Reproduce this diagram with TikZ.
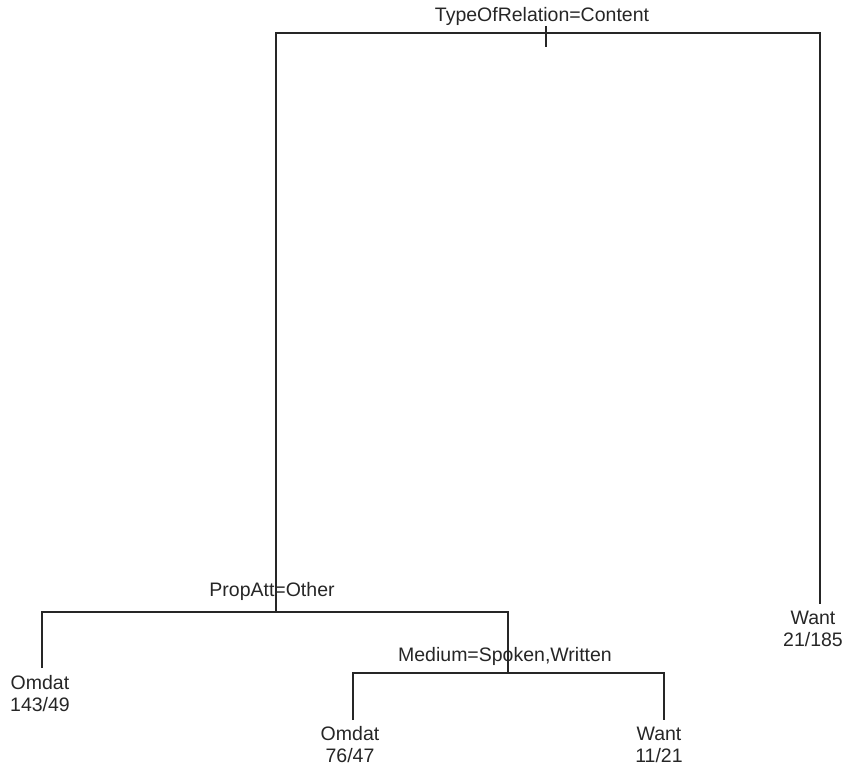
\documentclass[tikz,border=0pt]{standalone}
\usepackage{fontspec}
\setmainfont{Liberation Sans}
\begin{document}
\begin{tikzpicture}[x=1pt,y=-1pt,
  lbl/.style={inner sep=0pt, font=\fontsize{19.5}{22}\selectfont, text=black!85},
  leaf/.style={lbl, align=center},
  edge/.style={draw=black!85, line width=1.4pt}]
\useasboundingbox (0,0) rectangle (851,768);
% labels
\node[lbl] (root) at (542,16) {TypeOfRelation=Content};
\node[lbl] (prop) at (272,591) {PropAtt=Other};
\node[lbl] (med) at (505,656) {Medium=Spoken,Written};
\node[leaf] (l1) at (40,694) {Omdat\\143/49};
\node[leaf] (l2) at (350,745) {Omdat\\76/47};
\node[leaf] (l3) at (659,745) {Want\\11/21};
\node[leaf] (w1) at (813,629) {Want\\21/185};
% split points
\coordinate (rs) at (546,33);
\coordinate (n1) at (276,612);
\coordinate (n2) at (508,673);
\coordinate (l1t) at (42,668);
\coordinate (l2t) at (353,720);
\coordinate (l3t) at (664,720);
\coordinate (w1t) at (820,604);
% connectors
\draw[edge] (n1) |- (rs) -| (w1t);
\draw[edge] ([yshift=7pt]rs) -- ([yshift=-14pt]rs);
\draw[edge] (l1t) |- (n1) -| (n2);
\draw[edge] (l2t) |- (n2) -| (l3t);
\end{tikzpicture}
\end{document}
